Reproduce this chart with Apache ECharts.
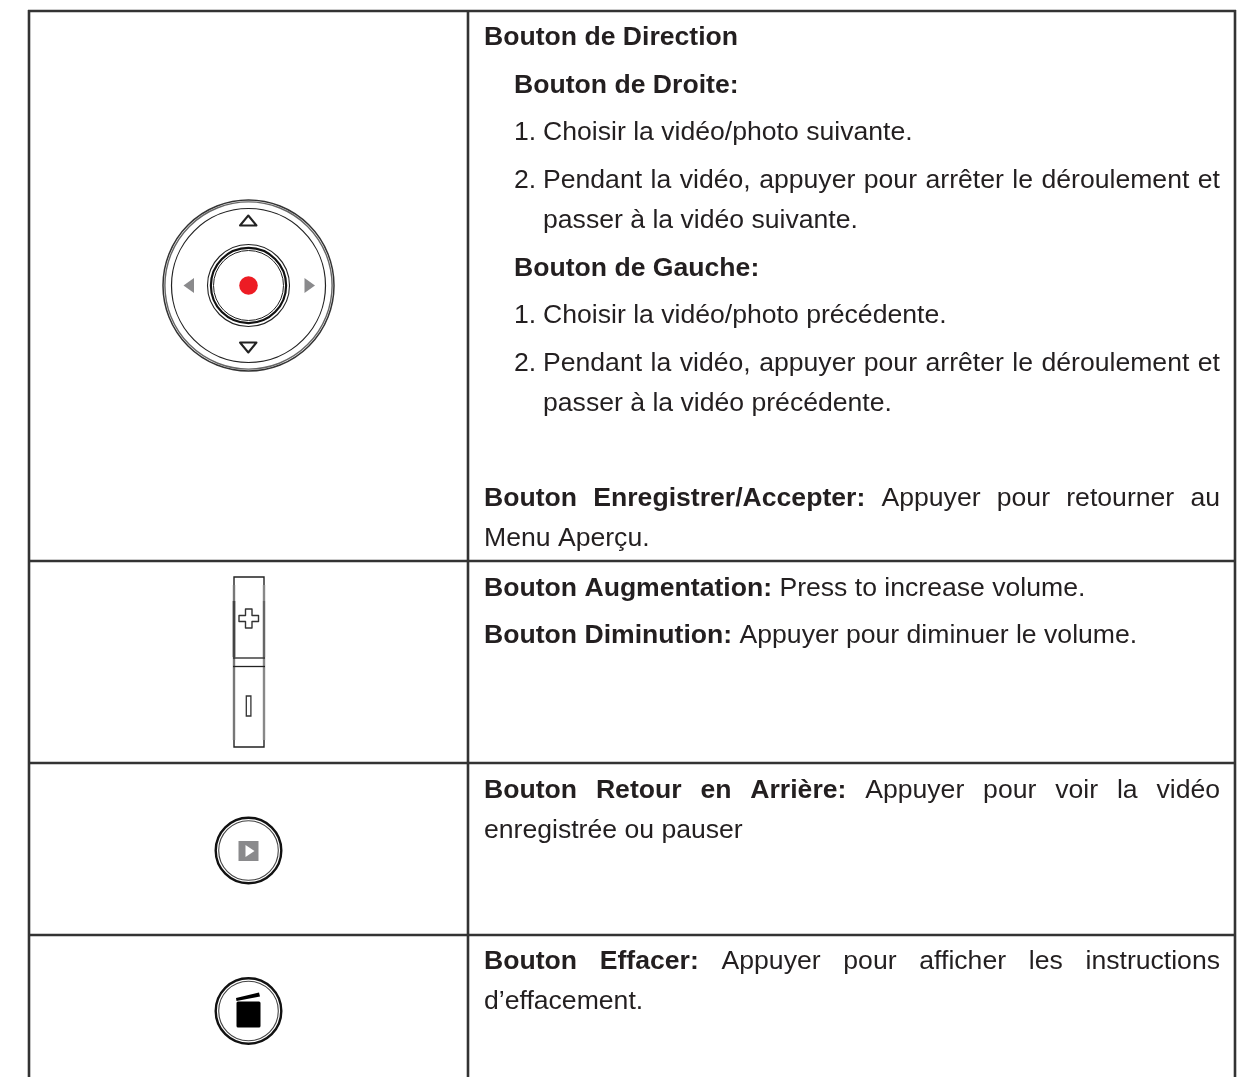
<!DOCTYPE html>
<html>
<head>
<meta charset="utf-8">
<style>html,body{margin:0;padding:0;background:#fff}#main{width:1255px;height:1077px}</style>
<script src="https://cdn.jsdelivr.net/npm/echarts@6/dist/echarts.min.js"></script>
</head>
<body>
<div id="main"></div>
<script>
// text of the right column: [bold part, regular part]
var directionLines = [
    ['Bouton de Direction', ''],
    ['Bouton de Droite:', ''],
    ['', 'Choisir la vidéo/photo suivante.'],
    ['', 'Pendant la vidéo, appuyer pour arrêter le déroulement et'],
    ['', 'passer à la vidéo suivante.'],
    ['Bouton de Gauche:', ''],
    ['', 'Choisir la vidéo/photo précédente.'],
    ['', 'Pendant la vidéo, appuyer pour arrêter le déroulement et'],
    ['', 'passer à la vidéo précédente.']
];
var directionMarks = ['', '', '1.', '2.', '', '', '1.', '2.', ''];
var recordLines = [
    ['Bouton Enregistrer/Accepter:', 'Appuyer pour retourner au'],
    ['', 'Menu Aperçu.']
];
var volumeLines = [
    ['Bouton Augmentation:', 'Press to increase volume.'],
    ['Bouton Diminution:', 'Appuyer pour diminuer le volume.']
];
var playbackLines = [
    ['Bouton Retour en Arrière:', 'Appuyer pour voir la vidéo'],
    ['', 'enregistrée ou pauser']
];
var deleteLines = [
    ['Bouton Effacer:', 'Appuyer pour afficher les instructions'],
    ['', 'd’effacement.']
];

var FONT = '"Liberation Sans", Arial, sans-serif';
var SIZE = 26.6;
var INK = '#231f20';
var RULE = '#333333';
var GREY = '#8a8a8c';
var LEFT = 484, RIGHT = 1220;

var measure = document.createElement('canvas').getContext('2d');
function wordWidth(word, bold) {
    measure.font = (bold ? 'bold ' : '') + SIZE + 'px ' + FONT;
    return measure.measureText(word).width;
}

var elements = [];

function putWord(word, x, y, bold) {
    elements.push({
        type: 'text', x: x, y: y,
        style: { text: word, font: (bold ? 'bold ' : '') + SIZE + 'px ' + FONT, fill: INK, textVerticalAlign: 'middle' }
    });
}

function putLine(line, x, y, justify) {
    var words = [];
    line[0].split(' ').forEach(function (w) { if (w) words.push([w, true]); });
    line[1].split(' ').forEach(function (w) { if (w) words.push([w, false]); });
    var gap = wordWidth(' ', false);
    if (justify) {
        var total = words.reduce(function (s, w) { return s + wordWidth(w[0], w[1]); }, 0);
        gap = (RIGHT - x - total) / (words.length - 1);
    }
    words.forEach(function (w) {
        putWord(w[0], x, y, w[1]);
        x += wordWidth(w[0], w[1]) + gap;
    });
}

function ring(cx, cy, r, width, color) {
    elements.push({
        type: 'circle', shape: { cx: cx, cy: cy, r: r },
        style: { fill: 'none', stroke: color || '#222', lineWidth: width }
    });
}
function poly(points, fill, stroke, width) {
    elements.push({
        type: 'polygon', shape: { points: points },
        style: { fill: fill, stroke: stroke || 'none', lineWidth: width || 0, lineJoin: 'round' }
    });
}
function seg(x1, y1, x2, y2, color, width) {
    elements.push({
        type: 'line', shape: { x1: x1, y1: y1, x2: x2, y2: y2 },
        style: { stroke: color, lineWidth: width }
    });
}
function rule(x1, y1, x2, y2) {
    seg(x1, y1, x2, y2, RULE, 2.6);
}

// table frame
rule(28, 11, 1236, 11);
rule(29, 10, 29, 1077);
rule(468, 11, 468, 1077);
rule(1235, 10, 1235, 1077);
rule(29, 561, 1236, 561);
rule(29, 763, 1236, 763);
rule(29, 935, 1236, 935);

// right column
var directionY = [38, 86, 133, 181, 221, 269, 316, 364, 404];
var directionX = [484, 514, 543, 543, 543, 514, 543, 543, 543];
directionLines.forEach(function (line, i) {
    if (directionMarks[i]) putWord(directionMarks[i], 514, directionY[i], false);
    putLine(line, directionX[i], directionY[i], i === 3 || i === 7);
});
putLine(recordLines[0], LEFT, 499, true);
putLine(recordLines[1], LEFT, 539, false);
putLine(volumeLines[0], LEFT, 589, false);
putLine(volumeLines[1], LEFT, 636, false);
putLine(playbackLines[0], LEFT, 791, true);
putLine(playbackLines[1], LEFT, 831, false);
putLine(deleteLines[0], LEFT, 962, true);
putLine(deleteLines[1], LEFT, 1002, false);

// direction pad
var cx = 248.5, cy = 285.5;
ring(cx, cy, 85.5, 1.5, '#333');
ring(cx, cy, 83.6, 1.4, '#666');
ring(cx, cy, 77, 1.2);
ring(cx, cy, 41, 1.1);
ring(cx, cy, 37.6, 2.2, '#111');
ring(cx, cy, 35, 1);
elements.push({ type: 'circle', shape: { cx: cx, cy: cy, r: 9.3 }, style: { fill: '#ed1c24' } });
poly([[248.3, 215.5], [256.5, 225.5], [240, 225.5]], '#fff', '#222', 2);
poly([[240, 342.5], [256.5, 342.5], [248.3, 352.5]], '#fff', '#222', 2);
poly([[183.5, 285.5], [194, 278], [194, 293]], GREY);
poly([[304.5, 278], [315, 285.5], [304.5, 293]], GREY);

// volume rocker
elements.push({ type: 'rect', shape: { x: 234, y: 577, width: 30, height: 170 }, style: { fill: '#fff', stroke: '#222', lineWidth: 1.4 } });
seg(234, 585, 234, 740, '#777', 2.4);
seg(264, 585, 264, 740, '#888', 2.4);
seg(234, 601, 234, 657, '#444', 2.6);
seg(264, 601, 264, 657, '#666', 2.2);
seg(233, 658, 265, 658, '#222', 1.3);
seg(233, 666.5, 265, 666.5, '#222', 1.3);
poly([[245.5, 609], [252, 609], [252, 615.5], [258.5, 615.5], [258.5, 621.5], [252, 621.5], [252, 628], [245.5, 628],
    [245.5, 621.5], [239, 621.5], [239, 615.5], [245.5, 615.5]], '#fff', '#333', 1.4);
elements.push({ type: 'rect', shape: { x: 246.3, y: 696, width: 4.6, height: 20 }, style: { fill: '#fff', stroke: '#333', lineWidth: 1.3 } });

// playback button
ring(248.5, 850.5, 32.8, 2.4, '#111');
ring(248.5, 850.5, 29.8, 1.1, '#444');
elements.push({ type: 'rect', shape: { x: 238.5, y: 841, width: 20, height: 20 }, style: { fill: GREY } });
poly([[245.5, 845], [254.5, 851], [245.5, 857]], '#fff');

// delete button
ring(248.5, 1011, 32.8, 2.4, '#111');
ring(248.5, 1011, 29.8, 1.1, '#444');
elements.push({ type: 'rect', shape: { x: 236.5, y: 1001.5, width: 24, height: 26, r: 1.5 }, style: { fill: '#000' } });
poly([[236, 998], [259, 992.5], [260, 996.5], [236.5, 1001]], '#000');

var chart = echarts.init(document.getElementById('main'), null, { renderer: 'canvas' });
chart.setOption({
    backgroundColor: '#ffffff',
    animation: false,
    graphic: { elements: elements }
});
</script>
</body>
</html>
